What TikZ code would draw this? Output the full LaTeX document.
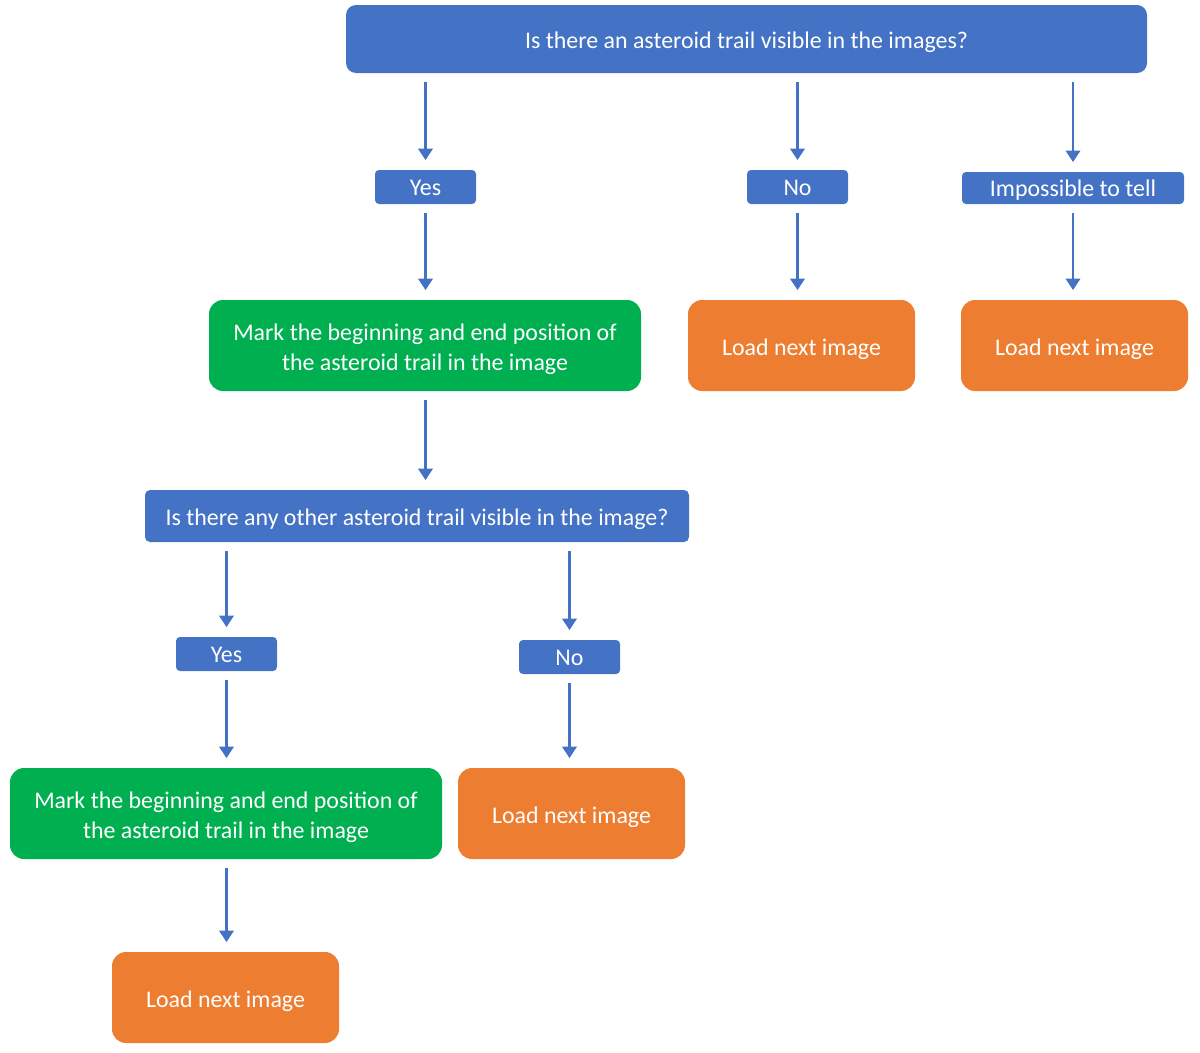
\documentclass[tikz,border=0pt]{standalone}
\usepackage{fontspec}
\setmainfont{Carlito}
\usepackage{xcolor}
\usetikzlibrary{arrows.meta}
\definecolor{qblue}{HTML}{4472C4}
\definecolor{sgreen}{HTML}{00B050}
\definecolor{lorange}{HTML}{ED7D31}
\tikzset{
    question-box/.style = {fill=qblue, text=white, rectangle, rounded corners=0.2cm, inner sep=0pt, text height=12.5pt, text depth=1.5pt},
    answer-box/.style = {fill=qblue, text=white, rectangle, rounded corners=0.08cm, minimum width=2.02cm, minimum height=0.68cm, inner sep=0pt, text height=12pt, text depth=2pt},
    mark-box/.style = {fill=sgreen, text=white, rectangle, rounded corners=0.28cm, minimum width=8.64cm, minimum height=1.82cm, align=center, inner sep=0pt, text height=31pt, text depth=3pt},
    load-box/.style = {fill=lorange, text=white, rectangle, rounded corners=0.28cm, minimum width=4.54cm, minimum height=1.82cm, inner sep=0pt, text height=12.5pt, text depth=1.5pt},
    flow-arrow/.style = {draw=qblue, line width=1.6pt, -{Triangle[width=8pt,length=6.5pt]}, shorten <=0.17cm, shorten >=0.19cm},
}

\begin{document}
\begin{tikzpicture}[font=\fontsize{13.6}{17}\selectfont]
\useasboundingbox (0,0) rectangle (24,-21.04);
% first question
\node [question-box, minimum width=16.02cm, minimum height=1.36cm] (q1) at (14.93,-0.78) {Is there an asteroid trail visible in the images?};
\node [answer-box] (yes1) at (8.51,-3.74) {Yes};
\node [answer-box] (no1) at (15.95,-3.74) {No};
\node [answer-box, minimum width=4.44cm, minimum height=0.64cm] (imp) at (21.46,-3.76) {Impossible to tell};
\node [mark-box] (mark1) at (8.5,-6.91) {Mark the beginning and end position of\\the asteroid trail in the image};
\node [load-box] (load1) at (16.03,-6.91) {Load next image};
\node [load-box] (load2) at (21.49,-6.91) {Load next image};
% second question
\node [question-box, rounded corners=0.1cm, minimum width=10.88cm, minimum height=1.04cm] (q2) at (8.34,-10.32) {Is there any other asteroid trail visible in the image?};
\node [answer-box] (yes2) at (4.53,-13.08) {Yes};
\node [answer-box] (no2) at (11.39,-13.14) {No};
\node [mark-box] (mark2) at (4.52,-16.27) {Mark the beginning and end position of\\the asteroid trail in the image};
\node [load-box] (load3) at (11.43,-16.27) {Load next image};
\node [load-box] (load4) at (4.51,-19.95) {Load next image};

\draw [flow-arrow] (yes1 |- q1.south) -- (yes1.north);
\draw [flow-arrow] (no1 |- q1.south) -- (no1.north);
\draw [flow-arrow] (imp |- q1.south) -- (imp.north);
\draw [flow-arrow] (yes1.south) -- (yes1 |- mark1.north);
\draw [flow-arrow] (no1.south) -- (no1 |- load1.north);
\draw [flow-arrow] (imp.south) -- (imp |- load2.north);
\draw [flow-arrow] (yes1 |- mark1.south) -- (yes1 |- q2.north);
\draw [flow-arrow] (yes2 |- q2.south) -- (yes2.north);
\draw [flow-arrow] (no2 |- q2.south) -- (no2.north);
\draw [flow-arrow] (yes2.south) -- (yes2 |- mark2.north);
\draw [flow-arrow] (no2.south) -- (no2 |- load3.north);
\draw [flow-arrow] (yes2 |- mark2.south) -- (yes2 |- load4.north);
\end{tikzpicture}
\end{document}
